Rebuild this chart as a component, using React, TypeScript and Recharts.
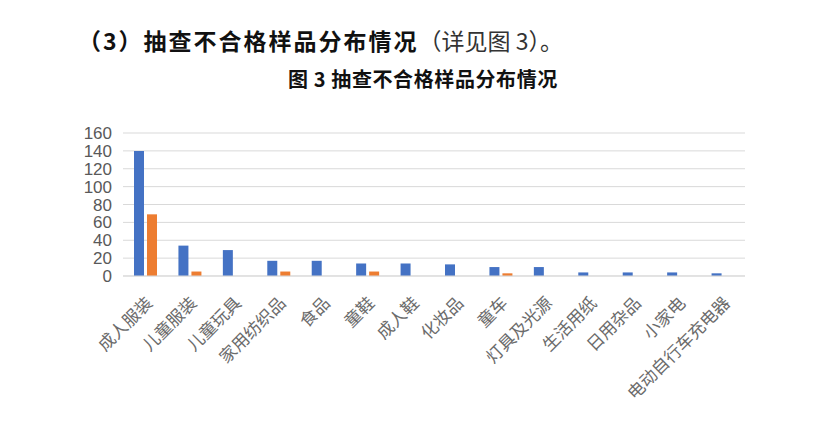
import { Bar, BarChart, CartesianGrid, XAxis, YAxis } from "recharts";

const categories = [
  "成人服装",
  "儿童服装",
  "儿童玩具",
  "家用纺织品",
  "食品",
  "童鞋",
  "成人鞋",
  "化妆品",
  "童车",
  "灯具及光源",
  "生活用纸",
  "日用杂品",
  "小家电",
  "电动自行车充电器",
];

const seriesA = [140, 34, 29, 17, 17, 14, 14, 13, 10, 10, 4, 4, 4, 3];
const seriesB = [69, 5, 0, 5, 0, 5, 0, 0, 3, 0, 0, 0, 0, 0];

const yTicks = [0, 20, 40, 60, 80, 100, 120, 140, 160];

const data = categories.map((name, i) => ({
  name,
  a: seriesA[i],
  b: seriesB[i],
}));

const cjk = '"Noto Sans CJK SC", "Noto Sans", sans-serif';

function CategoryTick(props: any) {
  const { x, y, payload } = props;
  return (
    <g transform={`translate(${x + 4},${y + 16})`}>
      <text
        dy="0.35em"
        fill="#6b6b6b"
        fontFamily={cjk}
        fontSize={17}
        textAnchor="end"
        transform="rotate(-45)"
      >
        {payload.value}
      </text>
    </g>
  );
}

export default function App() {
  return (
    <div
      style={{
        position: "absolute",
        left: 0,
        top: 0,
        width: 820,
        height: 427,
        background: "#fff",
        fontFamily: cjk,
      }}
    >
      <div
        style={{
          position: "absolute",
          left: 78,
          top: 25,
          fontSize: 23,
          lineHeight: "30px",
          color: "#111",
          whiteSpace: "nowrap",
        }}
      >
        <span style={{ fontWeight: 700, letterSpacing: 2 }}>
          （3）抽查不合格样品分布情况
        </span>
        <span style={{ fontWeight: 400, color: "#333" }}>（详见图 3）。</span>
      </div>
      <div
        style={{
          position: "absolute",
          left: 288,
          top: 66,
          fontSize: 20,
          letterSpacing: 0.6,
          lineHeight: "26px",
          fontWeight: 700,
          color: "#111",
          whiteSpace: "nowrap",
        }}
      >
        图 3 抽查不合格样品分布情况
      </div>
      <div style={{ position: "absolute", left: 0, top: 0 }}>
        <BarChart
          barGap={3}
          barSize={10}
          data={data}
          height={427}
          margin={{ top: 133, right: 75, bottom: 0, left: 0 }}
          width={820}
        >
          <CartesianGrid stroke="#d9d9d9" vertical={false} />
          <XAxis
            axisLine={{ stroke: "#d9d9d9" }}
            dataKey="name"
            height={151}
            interval={0}
            tick={<CategoryTick />}
            tickLine={false}
          />
          <YAxis
            axisLine={false}
            domain={[0, 160]}
            fontFamily='"Liberation Sans", sans-serif'
            fontSize={17}
            interval={0}
            stroke="#595959"
            tick={{ fill: "#595959" }}
            tickLine={false}
            tickMargin={5}
            ticks={yTicks}
            width={123}
          />
          <Bar dataKey="a" fill="#4472C4" isAnimationActive={false} />
          <Bar dataKey="b" fill="#ED7D31" isAnimationActive={false} />
        </BarChart>
      </div>
    </div>
  );
}
